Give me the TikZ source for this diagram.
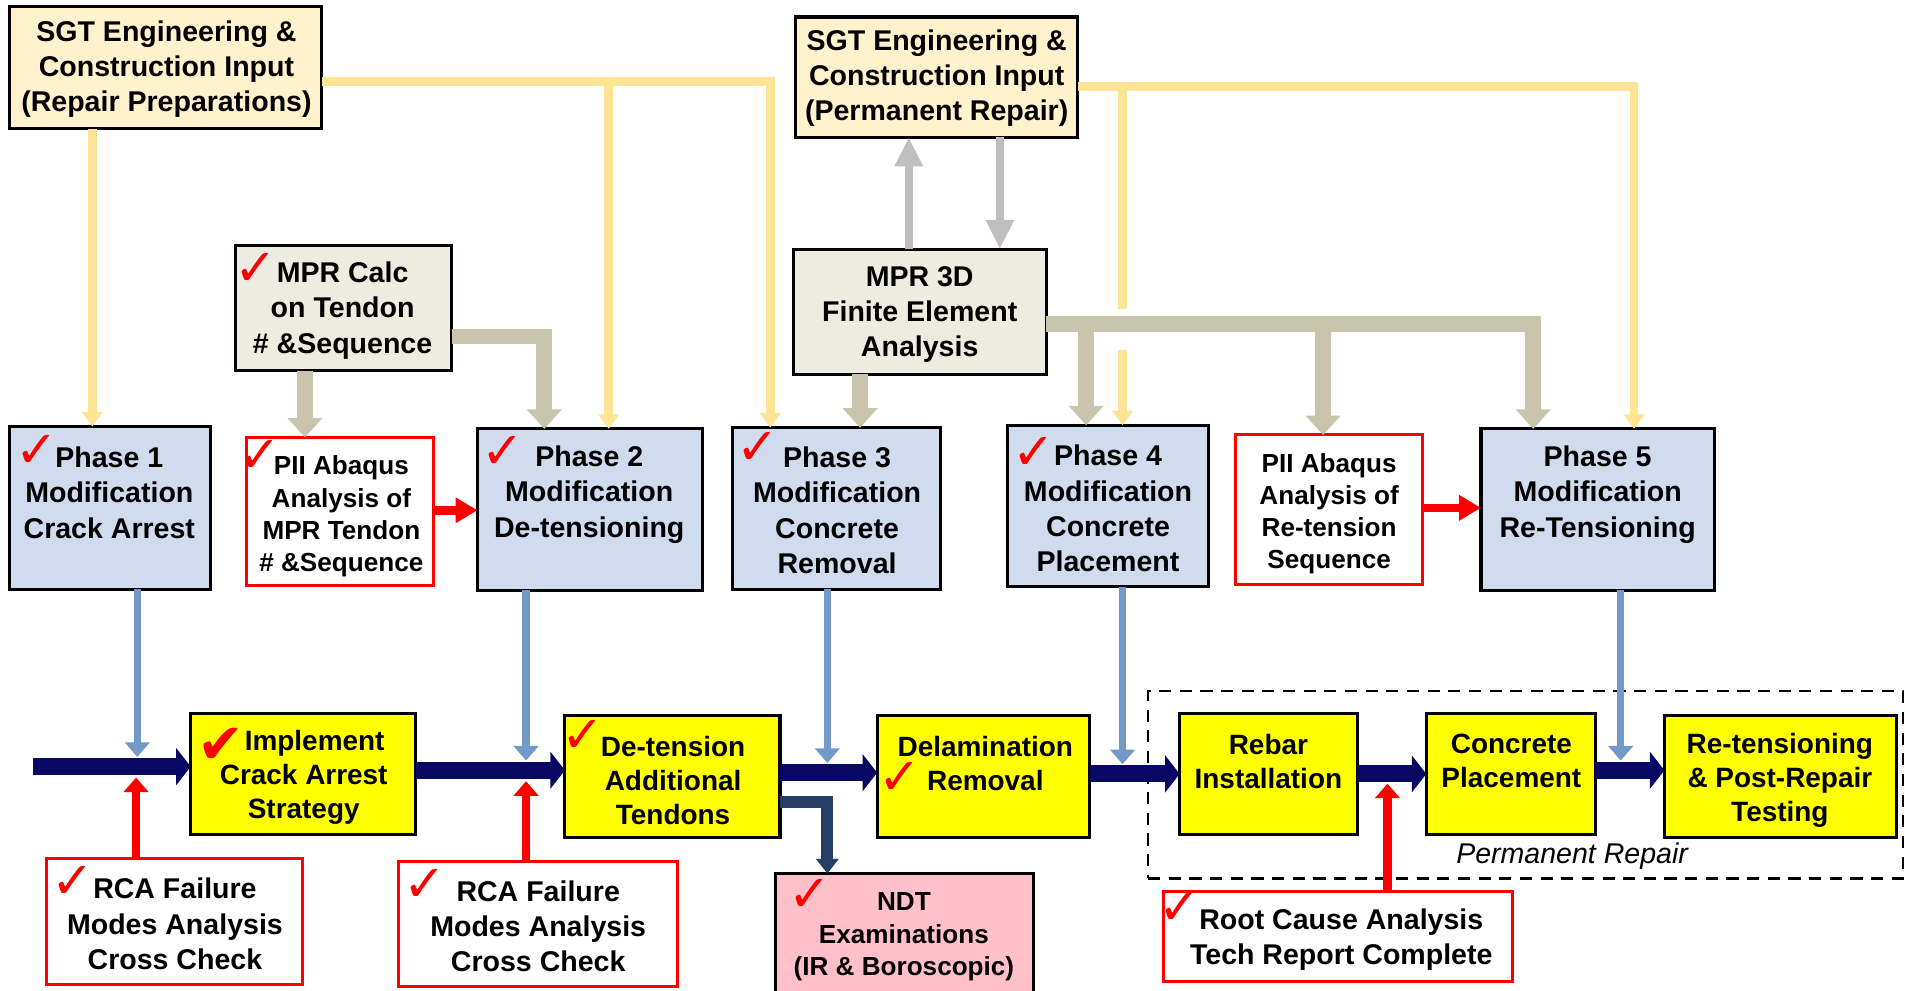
\documentclass[tikz,border=0pt]{standalone}
\usepackage{fontspec}
\setmainfont{Liberation Sans}
\newfontfamily\ckfont{DejaVu Sans}
\usetikzlibrary{arrows.meta}
\definecolor{sgtfill}{RGB}{255,242,204}
\definecolor{grfill}{RGB}{238,236,225}
\definecolor{phfill}{RGB}{208,219,237}
\definecolor{ybox}{RGB}{255,255,0}
\definecolor{pinkf}{RGB}{255,192,203}
\definecolor{ylw}{RGB}{255,228,150}
\definecolor{tanc}{RGB}{201,196,172}
\definecolor{gry}{RGB}{191,191,191}
\definecolor{blu}{RGB}{115,152,202}
\definecolor{navy}{RGB}{8,8,100}
\definecolor{slate}{RGB}{38,62,100}
\tikzset{
 bx/.style={draw=black, line width=2.5pt, inner sep=0pt, outer sep=0pt},
 rbx/.style={draw=red, line width=2.5pt, fill=white, inner sep=0pt, outer sep=0pt},
 tx/.style={font=\bfseries\fontsize{23.5}{29}\selectfont, align=center, inner sep=0pt, yshift=-1pt},
 txs/.style={font=\bfseries\fontsize{21.5}{26.5}\selectfont, align=center, inner sep=0pt, yshift=-2.5pt},
 txy/.style={font=\bfseries\fontsize{23}{28}\selectfont, align=center, inner sep=0pt, yshift=-2.5pt},
 ck/.style={text=red, font=\ckfont\fontsize{42}{42}\selectfont, inner sep=0pt},
 yl/.style={draw=ylw, line width=7pt, -{Triangle[length=12pt,width=17pt]}},
 yln/.style={draw=ylw, line width=7pt},
 tn/.style={draw=tanc, line width=13pt, -{Triangle[length=16pt,width=28pt]}},
 gy/.style={draw=gry, line width=7pt, -{Triangle[length=24pt,width=22pt]}},
 bl/.style={draw=blu, line width=6pt, -{Triangle[length=12pt,width=20pt]}},
 rd/.style={draw=red, line width=7pt, -{Triangle[length=12pt,width=20pt]}},
 rdh/.style={draw=red, line width=7pt, -{Triangle[length=18pt,width=20pt]}},
 nv/.style={draw=navy, line width=14pt, -{Triangle[length=12pt,width=30pt]}},
 sl/.style={draw=slate, line width=10pt, -{Triangle[length=12pt,width=18pt]}},
}
\begin{document}
\begin{tikzpicture}[x=1pt,y=-1pt]
\useasboundingbox (0,0) rectangle (1568,815);

% ---------- boxes ----------
\node[bx, fill=sgtfill, minimum width=257pt, minimum height=101pt] (sgt1) at (136.5,55.5) {};
\node[bx, fill=sgtfill, minimum width=232pt, minimum height=99pt] (sgt2) at (771,63.5) {};
\node[bx, fill=grfill, minimum width=178pt, minimum height=103pt] (mprc) at (283,253.5) {};
\node[bx, fill=grfill, minimum width=208pt, minimum height=103pt] (mpr3) at (757,256.5) {};
\node[bx, fill=phfill, minimum width=165pt, minimum height=134pt] (p1) at (90.5,418) {};
\node[rbx, minimum width=154pt, minimum height=122pt] (pii1) at (280,421) {};
\node[bx, fill=phfill, minimum width=185pt, minimum height=133pt] (p2) at (485.5,419.5) {};
\node[bx, fill=phfill, minimum width=171pt, minimum height=133pt] (p3) at (688.5,418.5) {};
\node[bx, fill=phfill, minimum width=166pt, minimum height=133pt] (p4) at (912,416.5) {};
\node[rbx, minimum width=154pt, minimum height=123pt] (pii2) at (1094,419.5) {};
\node[bx, fill=phfill, minimum width=192pt, minimum height=133pt] (p5) at (1315,419.5) {};

\node[draw=black, dashed, dash pattern=on 10pt off 7pt, line width=1.8pt, minimum width=621pt, minimum height=154pt, inner sep=0pt] (perm) at (1255.5,646) {};

\node[bx, fill=ybox, minimum width=185pt, minimum height=100pt] (imp) at (249.5,637) {};
\node[bx, fill=ybox, minimum width=177pt, minimum height=100pt] (det) at (553.5,639) {};
\node[bx, fill=ybox, minimum width=175pt, minimum height=100pt] (del) at (809.5,639) {};
\node[bx, fill=ybox, minimum width=146pt, minimum height=100pt] (reb) at (1044,637) {};
\node[bx, fill=ybox, minimum width=139pt, minimum height=100pt] (con) at (1243.5,637) {};
\node[bx, fill=ybox, minimum width=191pt, minimum height=100pt] (ret) at (1465.5,639) {};

\node[rbx, minimum width=211pt, minimum height=103pt] (rca1) at (143.5,758.5) {};
\node[rbx, minimum width=230pt, minimum height=103pt] (rca2) at (443,760.5) {};
\node[bx, fill=pinkf, minimum width=213pt, minimum height=99pt] (ndt) at (744.5,768.5) {};
\node[rbx, minimum width=287pt, minimum height=74pt] (root) at (1101.5,771) {};

% ---------- texts ----------
\node[tx] (sgt1t) at (137,56) {SGT Engineering \&\\Construction Input\\(Repair Preparations)};
\node[tx] (sgt2t) at (771,63.5) {SGT Engineering \&\\Construction Input\\(Permanent Repair)};
\node[tx] (mprct) at (282,254.5) {MPR Calc\\on Tendon\\\# \&Sequence};
\node[tx] (mpr3t) at (757,258) {MPR 3D\\Finite Element\\Analysis};
\node[tx] (p1t) at (90,404.5) {Phase 1\\Modification\\Crack Arrest};
\node[txs] (pii1t) at (281,422.5) {PII Abaqus\\Analysis of\\MPR Tendon\\\# \&Sequence};
\node[tx] (p2t) at (485,406) {Phase 2\\Modification\\De-tensioning};
\node[tx] (p3t) at (689,419) {Phase 3\\Modification\\Concrete\\Removal};
\node[tx] (p4t) at (912,417.5) {Phase 4\\Modification\\Concrete\\Placement};
\node[txs] (pii2t) at (1094,420.5) {PII Abaqus\\Analysis of\\Re-tension\\Sequence};
\node[tx] (p5t) at (1315,406) {Phase 5\\Modification\\Re-Tensioning};
\node[txy] (impt) at (250,637.5) {\hspace*{18pt}Implement\\Crack Arrest\\Strategy};
\node[txy] (dett) at (554,640) {De-tension\\Additional\\Tendons};
\node[txy] (delt) at (811,626) {Delamination\\Removal};
\node[txy] (rebt) at (1044,624.5) {Rebar\\Installation};
\node[txy] (cont) at (1244,624) {Concrete\\Placement};
\node[txy] (rett) at (1465,640) {Re-tensioning\\\& Post-Repair\\Testing};
\node[tx] (rca1t) at (144,759.5) {RCA Failure\\Modes Analysis\\Cross Check};
\node[tx] (rca2t) at (443,761.5) {RCA Failure\\Modes Analysis\\Cross Check};
\node[txs] (ndtt) at (744,768.5) {NDT\\Examinations\\(IR \& Boroscopic)};
\node[tx] (roott) at (1104,772.5) {Root Cause Analysis\\Tech Report Complete};
\node[font=\itshape\fontsize{23.5}{26}\selectfont, inner sep=0pt] (permt) at (1294,705) {Permanent Repair};

% ---------- check marks ----------
\node[ck] (c1) at (30,371.5) {✓};
\node[ck] (c2) at (211,222) {✓};
\node[ck] (c3) at (214,376) {✓};
\node[ck] (c4) at (414,372) {✓};
\node[ck] (c5) at (624,369) {✓};
\node[ck] (c6) at (851,373) {✓};
\node[ck, font=\ckfont\fontsize{46}{46}\selectfont] (c7) at (182,614) {✔};
\node[ck] (c8) at (480,606) {✓};
\node[ck] (c9) at (741,641) {✓};
\node[ck] (c10) at (60,726) {✓};
\node[ck] (c11) at (350,729) {✓};
\node[ck] (c12) at (667,737) {✓};
\node[ck] (c13) at (971,748) {✓};

% ---------- helper coordinates ----------
\coordinate (x76) at (76,0);
\coordinate (x501) at (501,0);
\coordinate (x634) at (634,0);
\coordinate (x924) at (924,0);
\coordinate (x1345) at (1345,0);
\coordinate (y67) at (0,67);
\coordinate (y71) at (0,71);
\coordinate (g1) at (924,254);
\coordinate (g2) at (924,288);
\coordinate (x251) at (251,0);
\coordinate (x448) at (448,0);
\coordinate (y277) at (0,277);
\coordinate (x708) at (708,0);
\coordinate (y267) at (0,267);
\coordinate (x894) at (894,0);
\coordinate (x1089) at (1089,0);
\coordinate (x1262) at (1262,0);
\coordinate (x748) at (748,0);
\coordinate (x823) at (823,0);
\coordinate (t1) at (113,623);
\coordinate (t2) at (433,626);
\coordinate (t3) at (681,628);
\coordinate (t4) at (924,629);
\coordinate (t5) at (1334,626);
\coordinate (b1) at (112,640);
\coordinate (b2) at (433,643);
\coordinate (b3) at (1142,645);
\coordinate (y420) at (0,420);
\coordinate (y418) at (0,418);
\coordinate (start) at (27,631);
\coordinate (ya) at (0,634);
\coordinate (yb) at (0,636);
\coordinate (yc) at (0,637);
\coordinate (yd) at (0,637);
\coordinate (ye) at (0,634);
\coordinate (y660) at (0,660);
\coordinate (x681) at (681,0);

% ---------- yellow connectors ----------
\draw[yl] (sgt1.south -| x76) -- (p1.north -| x76);
\draw[yl] (sgt1.east |- y67) -| (p3.north -| x634);
\draw[yl] (x501 |- y67) -- (p2.north -| x501);
\draw[yl] (sgt2.east |- y71) -| (p5.north -| x1345);
\draw[yln] (x924 |- y71) -- (g1);
\draw[yl] (g2) -- (p4.north -| x924);

% ---------- tan connectors ----------
\draw[tn] (mprc.south -| x251) -- (pii1.north -| x251);
\draw[tn] (mprc.east |- y277) -| (p2.north -| x448);
\draw[tn] (mpr3.south -| x708) -- (p3.north -| x708);
\draw[tn] (mpr3.east |- y267) -| (p5.north -| x1262);
\draw[tn] (x894 |- y267) -- (p4.north -| x894);
\draw[tn] (x1089 |- y267) -- (pii2.north -| x1089);

% ---------- gray connectors ----------
\draw[gy] (mpr3.north -| x748) -- (sgt2.south -| x748);
\draw[gy] (sgt2.south -| x823) -- (mpr3.north -| x823);

% ---------- red horizontal ----------
\draw[rdh] (pii1.east |- y420) -- (p2.west |- y420);
\draw[rdh] (pii2.east |- y418) -- (p5.west |- y418);

% ---------- navy main flow ----------
\draw[nv] (start) -- (imp.west |- start);
\draw[nv] (imp.east |- ya) -- (det.west |- ya);
\draw[nv] (det.east |- yb) -- (del.west |- yb);
\draw[nv] (del.east |- yc) -- (reb.west |- yc);
\draw[nv] (reb.east |- yd) -- (con.west |- yd);
\draw[nv] (con.east |- ye) -- (ret.west |- ye);
\draw[sl] (det.east |- y660) -| (ndt.north -| x681);

% ---------- blue connectors ----------
\draw[bl] (p1.south -| t1) -- (t1);
\draw[bl] (p2.south -| t2) -- (t2);
\draw[bl] (p3.south -| t3) -- (t3);
\draw[bl] (p4.south -| t4) -- (t4);
\draw[bl] (p5.south -| t5) -- (t5);

% ---------- red vertical ----------
\draw[rd] (rca1.north -| b1) -- (b1);
\draw[rd] (rca2.north -| b2) -- (b2);
\draw[rd] (root.north -| b3) -- (b3);
\end{tikzpicture}
\end{document}
